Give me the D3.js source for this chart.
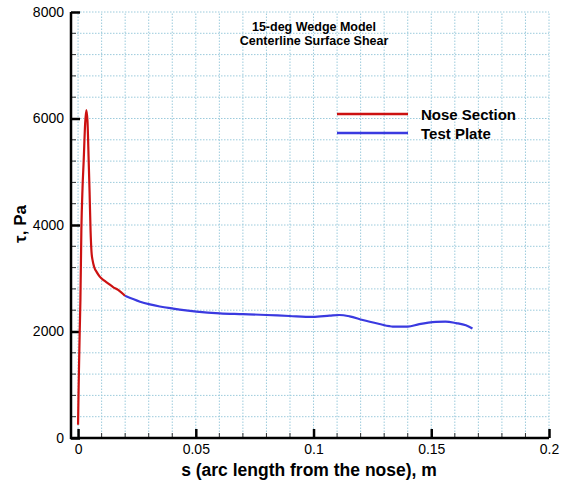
<!DOCTYPE html>
<html><head><meta charset="utf-8">
<script src="https://cdn.jsdelivr.net/npm/d3@7"></script>
<style>body{margin:0;background:#fff}svg{display:block}text{font-family:"Liberation Sans",Arial,Helvetica,sans-serif}</style>
</head><body>
<svg id="c" width="570" height="482"></svg>
<script>
const noseS   = [0, 0.0002, 0.0004, 0.0007, 0.001, 0.0014, 0.0019, 0.0024, 0.003, 0.0035, 0.004, 0.0045, 0.0049, 0.0053, 0.0057, 0.0062, 0.0068, 0.008, 0.0092, 0.011, 0.0127, 0.015, 0.017, 0.0199];
const noseTau = [250, 845, 1333, 2000, 2590, 3900, 4700, 5221, 5900, 6160, 5950, 5221, 4600, 3900, 3500, 3330, 3217, 3110, 3030, 2960, 2905, 2830, 2780, 2670];
const plateS   = [0.0199, 0.0263, 0.0305, 0.0347, 0.0404, 0.0432, 0.0503, 0.0602, 0.070, 0.080, 0.0898, 0.0997, 0.1068, 0.1110, 0.1153, 0.1209, 0.128, 0.1322, 0.1336, 0.14, 0.1449, 0.152, 0.156, 0.1605, 0.1647, 0.1675];
const plateTau = [2670, 2560, 2510, 2470, 2430, 2412, 2375, 2342, 2327, 2310, 2291, 2275, 2297, 2310, 2285, 2216, 2141, 2100, 2093, 2090, 2138, 2180, 2185, 2158, 2116, 2055];
const xTicks = [0, 0.05, 0.1, 0.15, 0.2];
const xTickLabels = ["0", "0.05", "0.1", "0.15", "0.2"];
const yTicks = [0, 2000, 4000, 6000, 8000];
const yTickLabels = ["0", "2000", "4000", "6000", "8000"];
const seriesNames = ["Nose Section", "Test Plate"];
const seriesColors = ["#cc1111", "#3a3ae0"];
const titleLines = ["15-deg Wedge Model", "Centerline Surface Shear"];

const svg = d3.select("#c");
const x = d3.scaleLinear().domain([-0.003, 0.2]).range([71, 549]);
const y = d3.scaleLinear().domain([0, 8000]).range([438, 12]);

// grid
const gx = d3.range(0, 0.2001, 0.01);
const gy = d3.range(400, 8001, 400);
const grid = svg.append("g").attr("stroke", "#9ccbdc").attr("stroke-width", 1).attr("stroke-dasharray", "1.5,1.5");
grid.selectAll("line.gx").data(gx).join("line").attr("class","gx")
  .attr("x1", d => x(d)).attr("x2", d => x(d)).attr("y1", y(0)).attr("y2", y(8000));
grid.selectAll("line.gy").data(gy).join("line").attr("class","gy")
  .attr("x1", x.range()[0]).attr("x2", x.range()[1]).attr("y1", d => y(d)).attr("y2", d => y(d));

// minor ticks
const minorX = gx.filter(d => Math.abs(d / 0.05 - Math.round(d / 0.05)) > 1e-6);
const minorY = d3.range(0, 8001, 400).filter(d => d % 2000 !== 0);
svg.append("g").selectAll("line").data(minorX).join("line")
  .attr("x1", d => x(d)).attr("x2", d => x(d)).attr("y1", y(0)).attr("y2", y(0) - 5)
  .attr("stroke", "#333").attr("stroke-width", 1);
svg.append("g").selectAll("line").data(minorY).join("line")
  .attr("x1", x.range()[0]).attr("x2", x.range()[0] + 5).attr("y1", d => y(d)).attr("y2", d => y(d))
  .attr("stroke", "#333").attr("stroke-width", 1);

// axes
const xAxis = d3.axisBottom(x).tickValues(xTicks).tickFormat((d, i) => xTickLabels[i]).tickSizeInner(-9).tickSizeOuter(0).tickPadding(6);
const yAxis = d3.axisLeft(y).tickValues(yTicks).tickFormat((d, i) => yTickLabels[i]).tickSizeInner(-9).tickSizeOuter(0).tickPadding(7);
const gxA = svg.append("g").attr("transform", `translate(0,${y(0)})`).call(xAxis);
const gyA = svg.append("g").attr("transform", `translate(${x.range()[0]},0)`).call(yAxis);
[gxA, gyA].forEach(g => {
  g.select(".domain").attr("stroke", "#000").attr("stroke-width", 2.5);
  g.selectAll(".tick line").attr("stroke", "#000").attr("stroke-width", 2.5);
  g.selectAll(".tick text").attr("font-size", 14).attr("fill", "#000").attr("font-family", '"Liberation Sans",Arial,sans-serif');
});
gyA.select(".domain").attr("d", `M0,${y(0)+1}V${y(8000)}`);
gxA.select(".domain").attr("d", `M${x.range()[0]-1},0H${x.range()[1]}`);

// lines
const line = d3.line().x(d => x(d[0])).y(d => y(d[1])).curve(d3.curveMonotoneX);
const nose = noseS.map((s, i) => [s, noseTau[i]]);
const plate = plateS.map((s, i) => [s, plateTau[i]]);
svg.append("path").datum(plate).attr("d", line).attr("fill", "none").attr("stroke", seriesColors[1]).attr("stroke-width", 2.2).attr("stroke-linejoin", "round");
svg.append("path").datum(nose).attr("d", line).attr("fill", "none").attr("stroke", seriesColors[0]).attr("stroke-width", 2.2).attr("stroke-linejoin", "round");

// title
svg.append("g").selectAll("text").data(titleLines).join("text")
  .attr("x", 314).attr("y", (d, i) => 31 + i * 14).attr("text-anchor", "middle")
  .attr("font-size", 12.5).attr("font-weight", "bold").text(d => d);

// legend
const lg = svg.append("g");
seriesNames.forEach((n, i) => {
  lg.append("line").attr("x1", 337).attr("x2", 408).attr("y1", 114 + i * 19).attr("y2", 114 + i * 19)
    .attr("stroke", seriesColors[i]).attr("stroke-width", 2.5);
  lg.append("text").attr("x", 421).attr("y", 120 + i * 19).attr("font-size", 15).attr("font-weight", "bold").text(n);
});

// axis titles
svg.append("text").attr("x", 309).attr("y", 476).attr("text-anchor", "middle").attr("font-size", 17.5).attr("font-weight", "bold")
  .text("s (arc length from the nose), m");
svg.append("text").attr("transform", "translate(26,224) rotate(-90)").attr("text-anchor", "middle").attr("font-size", 17).attr("font-weight", "bold")
  .text("τ, Pa");
</script>
</body></html>
